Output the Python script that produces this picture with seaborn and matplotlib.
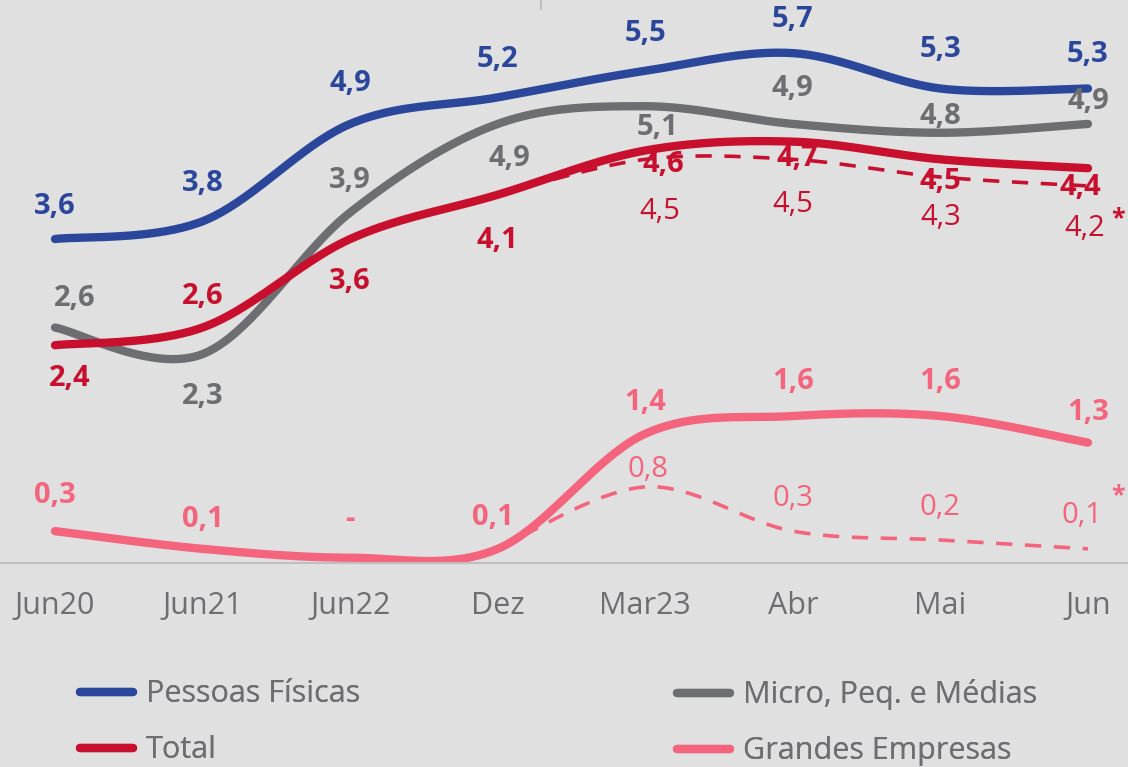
import numpy as np
import matplotlib
matplotlib.use('Agg')
import matplotlib.pyplot as plt
from matplotlib.lines import Line2D
import seaborn as sns

# Dados
meses = ['Jun20', 'Jun21', 'Jun22', 'Dez', 'Mar23', 'Abr', 'Mai', 'Jun']
pessoas_fisicas = [3.6, 3.8, 4.9, 5.2, 5.5, 5.7, 5.3, 5.3]
micro_pequenas = [2.6, 2.3, 3.9, 4.9, 5.1, 4.9, 4.8, 4.9]
total = [2.4, 2.6, 3.6, 4.1, 4.6, 4.7, 4.5, 4.4]
grandes = [0.3, 0.1, 0.0, 0.1, 1.4, 1.6, 1.6, 1.3]
# séries tracejadas (a partir de Dez)
total_tracejado = [4.1, 4.5, 4.5, 4.3, 4.2]
grandes_tracejado = [0.1, 0.8, 0.3, 0.2, 0.1]
inicio_tracejado = 3
rotulo_grandes = ['0,3', '0,1', '-', '0,1', '1,4', '1,6', '1,6', '1,3']

AZUL = '#2B479B'
CINZA = '#6D6E71'
VERMELHO = '#C8102E'
ROSA = '#F4657D'
FUNDO = '#E0E0E0'

sns.set_theme(style='white')
plt.rcParams['font.family'] = ['Open Sans', 'DejaVu Sans']


def suavizar(y, n=40):
    # curva suave tipo Catmull-Rom (como a linha suavizada do Excel)
    x = np.arange(len(y), dtype=float)
    y = np.asarray(y, dtype=float)
    px = np.concatenate([[x[0]], x, [x[-1]]])
    py = np.concatenate([[y[0]], y, [y[-1]]])
    xs, ys = [], []
    for i in range(1, len(px) - 2):
        p0 = np.array([px[i], py[i]])
        p3 = np.array([px[i + 1], py[i + 1]])
        c1 = p0 + (p3 - np.array([px[i - 1], py[i - 1]])) / 6
        c2 = p3 - (np.array([px[i + 2], py[i + 2]]) - p0) / 6
        t = np.linspace(0, 1, n)[:, None]
        pts = (1 - t) ** 3 * p0 + 3 * (1 - t) ** 2 * t * c1 + 3 * (1 - t) * t ** 2 * c2 + t ** 3 * p3
        xs.extend(pts[:, 0])
        ys.extend(pts[:, 1])
    return np.array(xs), np.array(ys)


fig = plt.figure(figsize=(11.28, 7.67), dpi=100, facecolor=FUNDO)
ax = fig.add_axes([0, 1 - 563 / 767, 1, 563 / 767])
ax.set_facecolor(FUNDO)

# linhas tracejadas
for serie, cor in [(total_tracejado, VERMELHO), (grandes_tracejado, ROSA)]:
    xs, ys = suavizar(serie)
    sns.lineplot(x=xs + inicio_tracejado, y=ys, ax=ax, color=cor, linewidth=2.6,
                 linestyle=(0, (4.5, 3.5)), sort=False, legend=False)

# linhas principais
for serie, cor in [(grandes, ROSA), (micro_pequenas, CINZA), (total, VERMELHO), (pessoas_fisicas, AZUL)]:
    xs, ys = suavizar(serie)
    sns.lineplot(x=xs, y=ys, ax=ax, color=cor, linewidth=6, sort=False, legend=False,
                 solid_capstyle='round')


def fmt(v):
    return f'{v:.1f}'.replace('.', ',')


def rotular(serie, cor, desloc, peso='bold', textos=None, x0=0):
    for i, v in enumerate(serie):
        dx, dy = desloc[i]
        txt = textos[i] if textos else fmt(v)
        ax.annotate(txt, (i + x0, v), xytext=(dx, dy), textcoords='offset pixels',
                    ha='center', va='center', fontsize=21, fontweight=peso, color=cor)


rotular(pessoas_fisicas, AZUL, [(0, 33), (0, 38), (0, 40), (0, 38), (0, 37), (0, 34), (0, 39), (0, 34)])
rotular(micro_pequenas, CINZA, [(20, 29), (0, -42), (0, 32), (12, -35), (12, -21), (0, 35), (0, 16), (0, 22)])
rotular(total, VERMELHO, [(15, -33), (0, 31), (0, -42), (0, -46), (18, -14), (4, -17), (0, -22), (-8, -19)])
rotular(grandes, ROSA, [(0, 36), (0, 29), (0, 38), (-5, 31), (0, 31), (0, 35), (0, 35), (0, 30)],
        textos=rotulo_grandes)
rotular(total_tracejado[1:], VERMELHO, [(15, -52), (0, -45), (0, -40), (-3, -43)], peso='normal',
        x0=inicio_tracejado + 1)
rotular(grandes_tracejado[1:], ROSA, [(3, 17), (0, 33), (0, 32), (-6, 33)], peso='normal',
        x0=inicio_tracejado + 1)

# asteriscos
for serie, cor, dy in [(total_tracejado, VERMELHO, -33), (grandes_tracejado, ROSA, 53)]:
    ax.annotate('*', (len(meses) - 1, serie[-1]), xytext=(30, dy), textcoords='offset pixels',
                ha='center', va='center', fontsize=18, fontweight='bold', color=cor)

ax.set_xlim(-55 / 147.57, 7 + 40 / 147.57)
ax.set_ylim(-0.06, 6.3)
ax.set_xticks(range(len(meses)))
ax.set_xticklabels(meses, fontsize=22, color=CINZA)
ax.set_yticks([])
ax.tick_params(axis='x', length=0, pad=20)
for lado in ['top', 'left', 'right']:
    ax.spines[lado].set_visible(False)
ax.spines['bottom'].set_color('#BFBFBF')
ax.spines['bottom'].set_linewidth(1.5)
ax.grid(False)

# pequeno traço no topo
fig.add_artist(Line2D([541 / 1128] * 2, [1, 1 - 9 / 767], color='#BFBFBF', linewidth=1.5))

# legenda em duas colunas
colunas = [
    [('Pessoas Físicas', AZUL), ('Total', VERMELHO)],
    [('Micro, Peq. e Médias', CINZA), ('Grandes Empresas', ROSA)],
]
for x_leg, itens in zip([52 / 1128, 649 / 1128], colunas):
    handles = [Line2D([], [], color=c, linewidth=6, solid_capstyle='round') for _, c in itens]
    leg = fig.legend(handles, [n for n, _ in itens], loc='upper left',
                     bbox_to_anchor=(x_leg, 1 - 652 / 767), frameon=False, fontsize=22,
                     handlelength=1.75, handletextpad=0.42, labelspacing=0.85, labelcolor=CINZA)
    fig.add_artist(leg)

fig.savefig('out.png', dpi=100, facecolor=FUNDO)
